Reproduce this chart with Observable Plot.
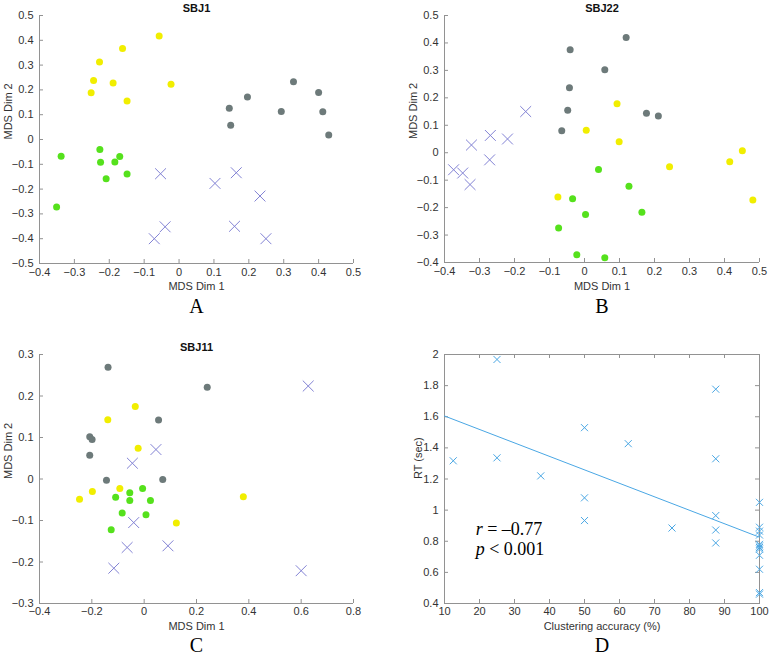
<!DOCTYPE html>
<html><head><meta charset="utf-8">
<script src="https://cdn.jsdelivr.net/npm/d3@7"></script>
<script src="https://cdn.jsdelivr.net/npm/@observablehq/plot@0.6"></script>
<style>
body{margin:0;background:#fff;}
#wrap{position:relative;width:770px;height:656px;background:#fff;overflow:hidden;}
#wrap svg{position:absolute;}
</style></head><body><div id="wrap"></div>
<script>
// ---------- Data ----------
// Panel A (SBJ1)
const aYellow = [[-0.057,0.417],[-0.162,0.367],[-0.228,0.313],[-0.245,0.238],[-0.189,0.228],[-0.252,0.189],[-0.149,0.155],[-0.023,0.223]];
const aGray   = [[0.144,0.126],[0.148,0.057],[0.196,0.171],[0.293,0.113],[0.328,0.233],[0.400,0.190],[0.412,0.112],[0.429,0.018]];
const aGreen  = [[-0.338,-0.068],[-0.227,-0.040],[-0.225,-0.092],[-0.170,-0.069],[-0.184,-0.091],[-0.209,-0.158],[-0.149,-0.139],[-0.351,-0.272]];
const aCross  = [[-0.053,-0.138],[0.103,-0.177],[0.164,-0.134],[0.232,-0.228],[-0.040,-0.352],[-0.071,-0.400],[0.159,-0.350],[0.249,-0.400]];
// Panel B (SBJ22)
const bGray   = [[0.119,0.420],[-0.041,0.375],[0.058,0.302],[-0.043,0.237],[-0.048,0.155],[0.177,0.144],[0.211,0.134],[-0.065,0.080]];
const bYellow = [[0.093,0.178],[0.005,0.082],[0.099,0.040],[0.451,0.007],[0.415,-0.033],[0.243,-0.051],[-0.076,-0.161],[0.481,-0.172]];
const bGreen  = [[0.040,-0.061],[0.127,-0.122],[-0.034,-0.168],[0.003,-0.225],[0.164,-0.217],[-0.074,-0.274],[-0.022,-0.372],[0.058,-0.383]];
const bCross  = [[-0.168,0.150],[-0.269,0.063],[-0.323,0.028],[-0.220,0.050],[-0.271,-0.026],[-0.374,-0.062],[-0.348,-0.074],[-0.327,-0.116]];
// Panel C (SBJ11)
const cGray   = [[-0.138,0.269],[0.241,0.221],[0.055,0.142],[-0.208,0.102],[-0.199,0.095],[-0.208,0.057],[-0.144,-0.003],[0.071,-0.001]];
const cYellow = [[-0.034,0.175],[-0.139,0.143],[-0.023,0.074],[-0.247,-0.049],[-0.198,-0.030],[-0.093,-0.023],[0.123,-0.106],[0.379,-0.043]];
const cGreen  = [[-0.006,-0.023],[-0.055,-0.033],[-0.109,-0.044],[-0.055,-0.052],[0.024,-0.052],[-0.084,-0.082],[0.007,-0.086],[-0.126,-0.122]];
const cCross  = [[0.627,0.224],[0.045,0.071],[-0.045,0.038],[-0.040,-0.105],[-0.065,-0.165],[0.091,-0.161],[-0.116,-0.215],[0.600,-0.221]];
// Panel D
const dAccuracy = [12.5,25,25,37.5,50,50,50,62.5,75,87.5,87.5,87.5,87.5,87.5,100,100,100,100,100,100,100,100,100,100,100,100];
const dRT       = [1.317,1.968,1.336,1.220,1.530,1.079,0.933,1.427,0.885,1.777,1.330,0.965,0.872,0.789,1.050,0.890,0.865,0.840,0.780,0.770,0.760,0.750,0.710,0.620,0.470,0.460];
const dFitX = [10,100];
const dFitY = [1.605,0.826];
const dStats = ["r = –0.77","p < 0.001"];
const dStatsPos = [[18.9,0.841],[18.9,0.713]];
// Tick lists
const ticksA_x = [-0.4,-0.3,-0.2,-0.1,0,0.1,0.2,0.3,0.4,0.5];
const ticksA_y = [-0.5,-0.4,-0.3,-0.2,-0.1,0,0.1,0.2,0.3,0.4,0.5];
const ticksB_x = [-0.4,-0.3,-0.2,-0.1,0,0.1,0.2,0.3,0.4,0.5];
const ticksB_y = [-0.4,-0.3,-0.2,-0.1,0,0.1,0.2,0.3,0.4,0.5];
const ticksC_x = [-0.4,-0.2,0,0.2,0.4,0.6,0.8];
const ticksC_y = [-0.3,-0.2,-0.1,0,0.1,0.2,0.3];
const ticksD_x = [10,20,30,40,50,60,70,80,90,100];
const ticksD_y = [0.4,0.6,0.8,1,1.2,1.4,1.6,1.8,2];

// ---------- Style ----------
const SANS = "'Liberation Sans', Arial, Helvetica, sans-serif";
const SERIF = "'Liberation Serif', 'Times New Roman', serif";
const AXIS = "#929292";
const INK = "#333333";
const COL = {gray:"#6d7a7a", yellow:"#f1ee00", green:"#55e11c", cross:"#8282d4", d:"#4aa7e4"};
const fmt = d => String(d).replace("-", "−");

function panel(o) {
  const fw = o.width - o.ml - o.mr, fh = o.height - o.mt - o.mb;
  const marks = [
    Plot.ruleY([o.yd[0]], {stroke: AXIS}),
    Plot.ruleX([o.xd[0]], {stroke: AXIS}),
    Plot.ruleX(o.xt, {x: d => d, stroke: AXIS, insetTop: fh - 4}),
    Plot.ruleY(o.yt, {y: d => d, stroke: AXIS, insetRight: fw - 4}),
  ];
  if (o.box) {
    marks.push(Plot.frame({stroke: AXIS}));
    marks.push(Plot.ruleX(o.xt, {x: d => d, stroke: AXIS, insetBottom: fh - 4}));
    marks.push(Plot.ruleY(o.yt, {y: d => d, stroke: AXIS, insetLeft: fw - 4}));
  }
  marks.push(
    Plot.axisX({ticks: o.xt, tickSize: 0, tickPadding: o.xpad ?? 5, tickFormat: fmt, label: null, fill: INK, fontSize: 11}),
    Plot.axisY({ticks: o.yt, tickSize: 0, tickPadding: 6, tickFormat: fmt, label: null, fill: INK, fontSize: 11})
  );
  marks.push(...o.data);
  if (o.title) marks.push(Plot.text([o.title], {frameAnchor: "top", dy: o.titleDy, lineAnchor: "middle", fontWeight: "bold", fontSize: 11, fill: "#111"}));
  marks.push(Plot.text([o.xl], {frameAnchor: "bottom", dy: o.xlDy, lineAnchor: "middle", fontSize: 11, fill: INK}));
  marks.push(Plot.text([o.yl], {frameAnchor: "left", dx: o.ylDx, rotate: -90, lineAnchor: "middle", fontSize: 11, fill: INK}));
  marks.push(Plot.text([o.letter], {frameAnchor: "bottom", dy: o.letterDy, lineAnchor: "middle", fontSize: 20, fontFamily: SERIF, fill: "#000"}));
  const svg = Plot.plot({
    width: o.width, height: o.height,
    marginLeft: o.ml, marginRight: o.mr, marginTop: o.mt, marginBottom: o.mb,
    x: {domain: o.xd, nice: false},
    y: {domain: o.yd, nice: false},
    style: {fontFamily: SANS, fontSize: "11px", color: INK, background: "transparent", overflow: "visible"},
    marks
  });
  svg.style.left = o.left + "px";
  svg.style.top = o.top + "px";
  return svg;
}

function mdsMarks(yellow, gray, green, cross) {
  const dot = (arr, c) => Plot.dot(arr, {x: d => d[0], y: d => d[1], r: 3.5, fill: c, stroke: "none"});
  return [
    dot(gray, COL.gray), dot(yellow, COL.yellow), dot(green, COL.green),
    Plot.dot(cross, {x: d => d[0], y: d => d[1], symbol: "times", r: 5, stroke: COL.cross, strokeWidth: 1, fill: "none"})
  ];
}

const wrap = document.getElementById("wrap");
wrap.appendChild(panel({
  left: 0, top: 0, width: 385, height: 320, ml: 39, mr: 32, mt: 15, mb: 57,
  xd: [-0.4, 0.5], yd: [-0.5, 0.5], xt: ticksA_x, yt: ticksA_y,
  data: mdsMarks(aYellow, aGray, aGreen, aCross),
  title: "SBJ1", titleDy: -7.5, xl: "MDS Dim 1", xlDy: 23, yl: "MDS Dim 2", ylDx: -31, letter: "A", letterDy: 43
}));
wrap.appendChild(panel({
  left: 385, top: 0, width: 385, height: 320, ml: 59, mr: 11, mt: 15, mb: 58,
  xd: [-0.4, 0.5], yd: [-0.4, 0.5], xt: ticksB_x, yt: ticksB_y,
  data: mdsMarks(bYellow, bGray, bGreen, bCross),
  title: "SBJ22", titleDy: -7.5, xl: "MDS Dim 1", xlDy: 24, yl: "MDS Dim 2", ylDx: -31, letter: "B", letterDy: 44
}));
wrap.appendChild(panel({
  left: 0, top: 320, width: 385, height: 336, ml: 39, mr: 32, mt: 34, mb: 53,
  xd: [-0.4, 0.8], yd: [-0.3, 0.3], xt: ticksC_x, yt: ticksC_y, xpad: 4,
  data: mdsMarks(cYellow, cGray, cGreen, cCross),
  title: "SBJ11", titleDy: -7.3, xl: "MDS Dim 1", xlDy: 23, yl: "MDS Dim 2", ylDx: -31, letter: "C", letterDy: 42
}));
const dData = dAccuracy.map((x, i) => ({x, y: dRT[i]}));
const dFit = dFitX.map((x, i) => ({x, y: dFitY[i]}));
const dText = dStats.map((t, i) => ({t, x: dStatsPos[i][0], y: dStatsPos[i][1]}));
const svgD = panel({
  left: 385, top: 320, width: 385, height: 336, ml: 59, mr: 11, mt: 34, mb: 53, box: true,
  xd: [10, 100], yd: [0.4, 2], xt: ticksD_x, yt: ticksD_y, xpad: 4,
  data: [
    Plot.line(dFit, {x: "x", y: "y", stroke: COL.d, strokeWidth: 1}),
    Plot.dot(dData, {x: "x", y: "y", symbol: "times", r: 3.3, stroke: COL.d, strokeWidth: 1, fill: "none"}),
    Plot.text(dText, {x: "x", y: "y", text: "t", textAnchor: "start", lineAnchor: "bottom", fontFamily: SERIF, fontSize: 18, fill: "#000"})
  ],
  title: null, xl: "Clustering accuracy (%)", xlDy: 23, yl: "RT (sec)", ylDx: -26, letter: "D", letterDy: 42
});
wrap.appendChild(svgD);
svgD.querySelectorAll("text").forEach(t => {
  const s = t.textContent;
  if (s === dStats[0] || s === dStats[1]) {
    const first = s[0], rest = s.slice(1);
    t.textContent = "";
    const ns = "http://www.w3.org/2000/svg";
    const a = document.createElementNS(ns, "tspan"); a.setAttribute("font-style", "italic"); a.textContent = first;
    const b = document.createElementNS(ns, "tspan"); b.textContent = rest;
    t.appendChild(a); t.appendChild(b);
  }
});
</script></body></html>
